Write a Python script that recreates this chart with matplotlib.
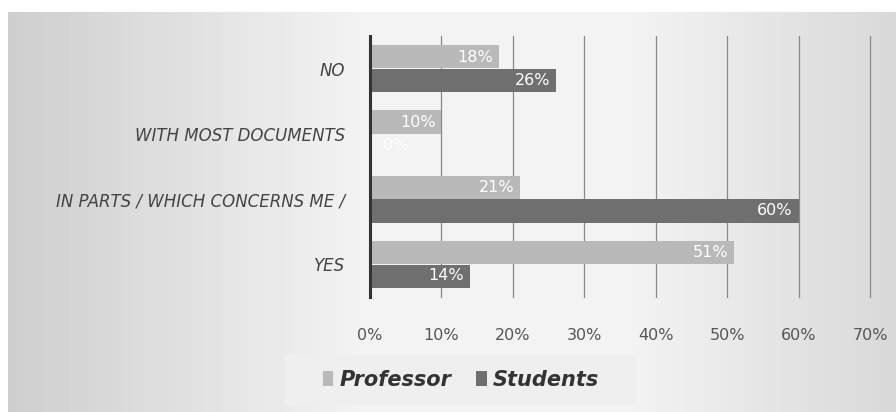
import numpy as np
import matplotlib.pyplot as plt
from matplotlib.patches import Rectangle

categories = ["NO", "WITH MOST DOCUMENTS", "IN PARTS / WHICH CONCERNS ME /", "YES"]
professor = [18, 10, 21, 51]
students = [26, 0, 60, 14]
xticks = [0, 10, 20, 30, 40, 50, 60, 70]

fig = plt.figure(figsize=(8.96, 4.12), dpi=100)
fig.patch.set_facecolor("white")

# gradient background panel
bg = fig.add_axes([8 / 896, 0, 1 - 8 / 896, 1 - 12 / 412], zorder=-10)
prof = np.concatenate([np.linspace(0.81, 0.95, 40), np.linspace(0.95, 0.95, 30), np.linspace(0.95, 0.85, 30)])
bg.imshow(np.tile(prof, (2, 1)), cmap="gray", vmin=0, vmax=1, aspect="auto", extent=[0, 1, 0, 1])
bg.axis("off")

ax = fig.add_axes([370 / 896, 1 - 297 / 412, 500 / 896, 261 / 412])
ax.patch.set_alpha(0)

y = np.arange(len(categories))
h = 0.355
ax.barh(y - h / 2 - 0.005, professor, height=h, color="#b9b9b9", label="Professor", zorder=3)
ax.barh(y + h / 2 + 0.005, students, height=h, color="#6f6f6f", label="Students", zorder=3)

for i in range(len(categories)):
    ax.text(professor[i] - 0.8, y[i] - h / 2, f"{professor[i]}%", ha="right", va="center",
            color="white", fontsize=11.5, zorder=4)
    if students[i] > 3:
        ax.text(students[i] - 0.8, y[i] + h / 2, f"{students[i]}%", ha="right", va="center",
                color="white", fontsize=11.5, zorder=4)
    else:
        ax.text(1.8, y[i] + h / 2, f"{students[i]}%", ha="left", va="center",
                color="white", alpha=0.8, fontsize=11.5, zorder=4)

ax.set_ylim(3.5, -0.5)
ax.set_xlim(0, 70)
ax.set_yticks(y)
ax.set_yticklabels(categories, fontsize=12, style="italic", color="#444444")
ax.set_xticks(xticks)
ax.set_xticklabels([f"{t}%" for t in xticks], fontsize=11.5, color="#555555")
ax.tick_params(axis="y", length=0, pad=18)
ax.tick_params(axis="x", length=0, pad=22)
for t in xticks[1:]:
    ax.axvline(t, color="#8a8a8a", lw=0.9, zorder=1, clip_on=False)
for s in ["top", "right", "bottom"]:
    ax.spines[s].set_visible(False)
ax.spines["left"].set_color("#333333")
ax.spines["left"].set_linewidth(2.2)
ax.spines["left"].set_zorder(5)

# legend box
fig.patches.append(Rectangle((285 / 896, 1 - 405 / 412), 352 / 896, 50 / 412,
                             transform=fig.transFigure, facecolor="#efefef", edgecolor="none", zorder=-5))
leg = fig.legend(loc="center", bbox_to_anchor=(461 / 896, 1 - 380 / 412), ncol=2, frameon=False,
                 prop={"size": 15, "weight": "bold", "style": "italic"}, handlelength=0.5,
                 handleheight=0.7, handletextpad=0.3, columnspacing=1.2)
for t in leg.get_texts():
    t.set_color("#333333")

fig.savefig("out.png", dpi=100)
